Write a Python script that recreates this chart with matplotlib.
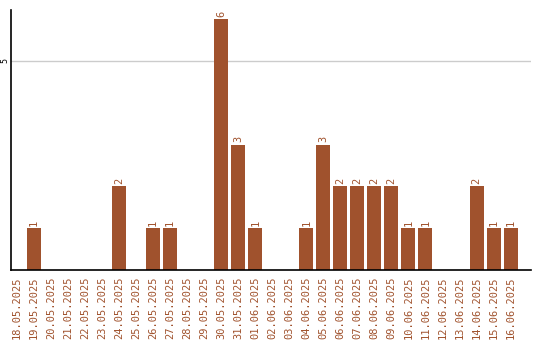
import matplotlib
matplotlib.use("Agg")
import matplotlib.pyplot as plt

dates = ["18.05.2025", "19.05.2025", "20.05.2025", "21.05.2025", "22.05.2025",
         "23.05.2025", "24.05.2025", "25.05.2025", "26.05.2025", "27.05.2025",
         "28.05.2025", "29.05.2025", "30.05.2025", "31.05.2025", "01.06.2025",
         "02.06.2025", "03.06.2025", "04.06.2025", "05.06.2025", "06.06.2025",
         "07.06.2025", "08.06.2025", "09.06.2025", "10.06.2025", "11.06.2025",
         "12.06.2025", "13.06.2025", "14.06.2025", "15.06.2025", "16.06.2025"]
counts = [0, 1, 0, 0, 0, 0, 2, 0, 1, 1, 0, 0, 6, 3, 1,
          0, 0, 1, 3, 2, 2, 2, 2, 1, 1, 0, 0, 2, 1, 1]
yticks = [5]

color = "#A0522D"
fig = plt.figure(figsize=(5.4, 3.4), dpi=100)
ax = fig.add_axes([11/540, 70/340, 520/540, 260/340])
x = list(range(len(dates)))
ax.bar(x, counts, width=0.82, color=color, zorder=2)
for xi, v in zip(x, counts):
    if v > 0:
        ax.text(xi, v + 0.06, str(v), rotation=90, ha="center", va="bottom",
                fontsize=7.5, color=color, family="DejaVu Sans Mono")
ax.set_xlim(-0.35, 30.2)
ax.set_ylim(0, 6.22)
ax.set_yticks(yticks)
ax.set_yticklabels([str(t) for t in yticks], rotation=90, va="center",
                   fontsize=6, family="DejaVu Sans Mono")
ax.set_xticks(x)
ax.set_xticklabels(dates, rotation=90, fontsize=7.5, color=color,
                   family="DejaVu Sans Mono")
ax.tick_params(length=0)
ax.tick_params(axis="x", pad=5)
ax.tick_params(axis="y", pad=1.5)
ax.grid(axis="y", color="#cccccc", linewidth=1, zorder=0)
for s in ["top", "right"]:
    ax.spines[s].set_visible(False)
for s in ["left", "bottom"]:
    ax.spines[s].set_linewidth(1.2)
fig.savefig("out.png", dpi=100)
